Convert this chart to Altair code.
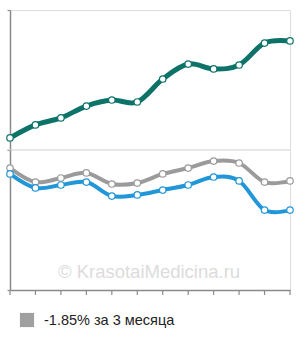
import altair as alt
import pandas as pd

months = list(range(12))
teal = [1.086, 1.179, 1.229, 1.314, 1.357, 1.343, 1.507, 1.614, 1.579, 1.607, 1.764, 1.779]
gray = [0.871, 0.771, 0.800, 0.836, 0.757, 0.764, 0.829, 0.871, 0.921, 0.907, 0.771, 0.779]
blue = [0.829, 0.729, 0.750, 0.771, 0.671, 0.679, 0.714, 0.750, 0.807, 0.779, 0.571, 0.571]
series_names = ["teal", "gray", "blue"]
series_colors = ["#0d7369", "#9b9b9b", "#2196d9"]
series_widths = [5, 4, 4]
legend_label = "-1.85% за 3 месяца"
watermark = "© KrasotaiMedicina.ru"

rows = []
for name, vals in zip(series_names, [teal, gray, blue]):
    for m, v in zip(months, vals):
        rows.append({"m": m, "v": v, "s": name})
df = pd.DataFrame(rows)

xs = alt.Scale(domain=[0, 11], nice=False, zero=False)
ys = alt.Scale(domain=[0, 2], nice=False, zero=False)

ax_x = alt.Axis(labels=False, title=None, grid=False, ticks=False,
                domainColor="#8a8a8a", domainWidth=1.5)
ax_y = alt.Axis(values=[0, 1, 2], labels=False, title=None, grid=False,
                domainColor="#8a8a8a", tickColor="#8a8a8a", tickSize=3,
                domainWidth=1.5, tickWidth=1.2)

X = alt.X("m:Q", scale=xs, axis=ax_x)
Y = alt.Y("v:Q", scale=ys, axis=ax_y)

mid = alt.Chart(pd.DataFrame({"v": [1.0]})).mark_rule(color="#d0d0d0", strokeWidth=1.2).encode(
    y=Y, x=alt.value(-3), x2=alt.value(280),
)

xticks = alt.Chart(pd.DataFrame({"m": months})).mark_rule(color="#8a8a8a", strokeWidth=1.2).encode(
    x=X, y=alt.value(280), y2=alt.value(285),
)

layers = [mid, xticks]
for name, col, w in zip(series_names, series_colors, series_widths):
    d = df[df.s == name]
    line = alt.Chart(d).mark_line(color=col, strokeWidth=w, interpolate="cardinal").encode(x=X, y=Y)
    pts = alt.Chart(d).mark_point(filled=True, fill="white", stroke=col, strokeWidth=1.2,
                                  size=42, opacity=1).encode(x=X, y=Y)
    layers += [line, pts]

wm = alt.Chart(pd.DataFrame({"t": [watermark]})).mark_text(
    font="Liberation Sans", fontSize=18.5, color="#dcdcdc", align="center", baseline="middle"
).encode(text="t:N", x=alt.value(139), y=alt.value(262))

leg_sq = alt.Chart(pd.DataFrame({"a": [1]})).mark_square(
    size=200, color="#a0a0a0", opacity=1, filled=True
).encode(x=alt.value(17), y=alt.value(310))

leg_txt = alt.Chart(pd.DataFrame({"t": [legend_label]})).mark_text(
    font="Liberation Sans", fontSize=14.5, color="#222222", align="left", baseline="middle"
).encode(text="t:N", x=alt.value(34), y=alt.value(311))

chart = alt.layer(wm, *layers, leg_sq, leg_txt).properties(
    width=280, height=280,
    autosize=alt.AutoSizeParams(type="none"),
    padding={"left": 10, "top": 10, "right": 10, "bottom": 50},
).configure_view(stroke=None).configure(background="white")

chart.save("out.html", embed_options={"renderer": "svg", "actions": False})
